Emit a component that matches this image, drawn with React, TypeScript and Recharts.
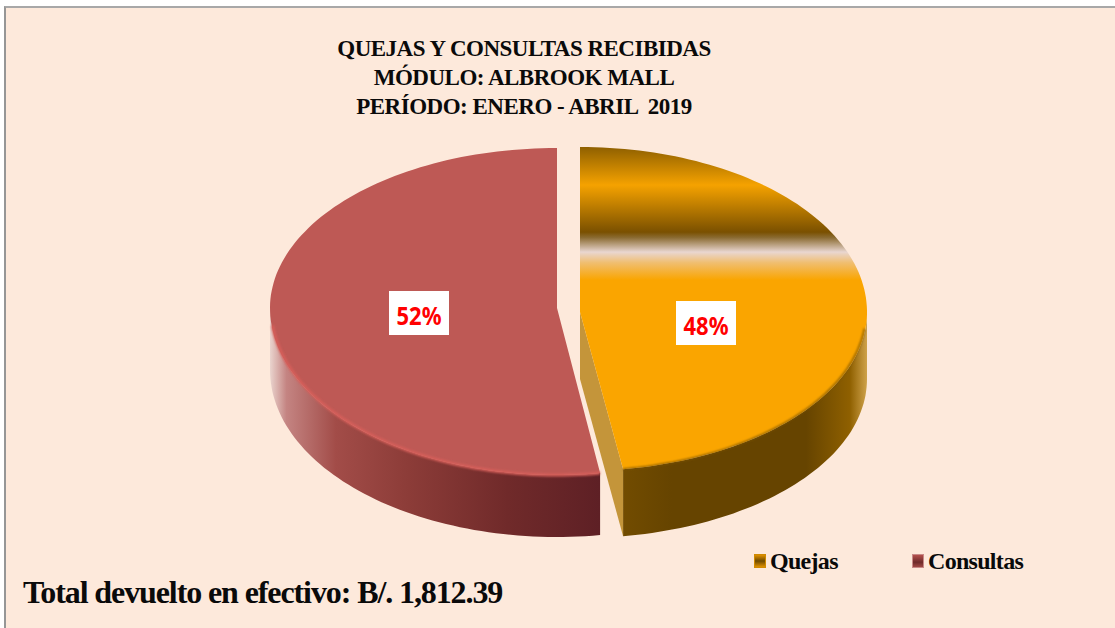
import { Legend, Pie, PieChart } from "recharts";

const categories = ["Quejas", "Consultas"];
const seriesValues = [47.6, 52.4];
const titleLines = ["QUEJAS Y CONSULTAS RECIBIDAS", "MÓDULO: ALBROOK MALL", "PERÍODO: ENERO - ABRIL  2019"];
const footerText = "Total devuelto en efectivo: B/. 1,812.39";

const data = categories.map((name, i) => ({ name, value: seriesValues[i] }));

const SERIF = "'Liberation Serif', serif";

// how each slice sits in the fake 3d: explode offset and a squashed radius front/back
const sliceLook: Record<string, any> = {
  Quejas: { ox: 11.5, oy: 2, depth: 67, ryBack: 165, ryFront: 159, top: "url(#quejasTop)", side: "url(#quejasSide)", cut: "#C4953A", rim: "#7A5200", rimW: 1.5, lx: 126, ly: 11 },
  Consultas: { ox: -11.5, oy: -2, depth: 62, ryBack: 160, ryFront: 167, top: "#BE5955", side: "url(#consultasSide)", cut: "#BE5955", rim: "#D65F5A", rimW: 3, lx: -138, ly: 5 },
};

function point(cx: number, cy: number, rx: number, look: any, deg: number) {
  const t = (deg * Math.PI) / 180;
  const c = Math.cos(t);
  return [cx + rx * Math.sin(t), cy - (c > 0 ? look.ryBack : look.ryFront) * c];
}

function arcPoints(cx: number, cy: number, rx: number, look: any, from: number, to: number) {
  const out: number[][] = [];
  const n = Math.max(2, Math.ceil(Math.abs(to - from) / 1.5));
  for (let i = 0; i <= n; i++) out.push(point(cx, cy, rx, look, from + ((to - from) * i) / n));
  return out;
}

const toPath = (pts: number[][]) => pts.map((p, i) => `${i ? "L" : "M"}${p[0].toFixed(1)} ${p[1].toFixed(1)}`).join(" ");

function Slice3D(props: any) {
  const { cx, cy, outerRadius, startAngle, endAngle, name, payload } = props;
  const look = sliceLook[name ?? payload?.name];
  const x0 = cx + look.ox;
  const y0 = cy + look.oy;
  const a0 = 90 - startAngle;
  const a1 = 90 - endAngle;
  const top = arcPoints(x0, y0, outerRadius, look, a0, a1);
  // only the part of the rim facing the viewer gets a wall
  const wallFrom = Math.max(a0, 90);
  const wallTo = Math.min(a1, 270);
  const front = arcPoints(x0, y0, outerRadius, look, wallFrom, wallTo);
  const wall = [...front, ...[...front].reverse().map((p) => [p[0], p[1] + look.depth])];
  const rim = arcPoints(x0, y0, outerRadius - 1, look, Math.max(wallFrom, 96), Math.min(wallTo, 264));
  const tip = point(x0, y0, outerRadius, look, a0 < 90 ? a1 : a0);
  const cutFace = [[x0, y0], tip, [tip[0], tip[1] + look.depth], [x0, y0 + look.depth]];
  return (
    <g>
      {a0 < 90 && <path d={toPath(cutFace)} fill={look.cut} />}
      <path d={toPath(wall)} fill={look.side} />
      <path d={`${toPath([[x0, y0], ...top])} Z`} fill={look.top} />
      <path d={toPath(rim)} fill="none" stroke={look.rim} strokeWidth={look.rimW} filter="url(#soft)" />
    </g>
  );
}

function PctLabel(props: any) {
  const { cx, cy, percent, name } = props;
  const look = sliceLook[name];
  const x = cx + look.ox + look.lx;
  const y = cy + look.oy + look.ly;
  return (
    <g>
      <rect x={x - 30} y={y - 22} width={60} height={44} fill="#FFFFFF" />
      <text
        x={x - 22.5}
        y={y + 12}
        textLength={45}
        lengthAdjust="spacingAndGlyphs"
        fontFamily="'Noto Sans', sans-serif"
        fontWeight={700}
        fontSize={25}
        fill="#FF0000"
      >
        {`${Math.round(percent * 100)}%`}
      </text>
    </g>
  );
}

function LegendRow() {
  const items = [
    { name: categories[0], left: 0, icon: "linear-gradient(180deg,#E09000,#6E4A00 50%,#E09000)", edge: "#D08A00" },
    { name: categories[1], left: 158, icon: "linear-gradient(180deg,#B4504C,#6E2A2A 60%,#A04844)", edge: "#C98A88" },
  ];
  return (
    <div style={{ position: "relative", width: 280, height: 30 }}>
      {items.map((it) => (
        <div key={it.name} style={{ position: "absolute", left: it.left, top: 0, display: "flex", alignItems: "center", fontFamily: SERIF, fontWeight: 700, fontSize: 24, letterSpacing: -0.7, color: "#0A0A0A", lineHeight: "30px" }}>
          <span style={{ width: 10, height: 12, marginRight: 4, background: it.icon, border: `1px solid ${it.edge}` }} />
          {it.name}
        </div>
      ))}
    </div>
  );
}

export default function App() {
  return (
    <div style={{ position: "absolute", left: 0, top: 0, width: 1115, height: 628, background: "#FFFFFF", overflow: "hidden" }}>
      <div style={{ position: "absolute", left: 4, top: 6, width: 1111, height: 622, background: "#FDE9DB", borderLeft: "2px solid #969696", borderTop: "2px solid #A8A8A8", boxSizing: "border-box" }} />
      <PieChart width={1115} height={628} margin={{ top: 0, right: 0, bottom: 0, left: 0 }} style={{ position: "absolute", left: 0, top: 0 }}>
        <defs>
          <linearGradient id="quejasTop" gradientUnits="userSpaceOnUse" x1="0" y1="147" x2="0" y2="280">
            <stop offset="0" stopColor="#8F6000" />
            <stop offset="0.286" stopColor="#F5A200" />
            <stop offset="0.64" stopColor="#7A5000" />
            <stop offset="0.68" stopColor="#8A6A30" />
            <stop offset="0.79" stopColor="#E9D6D0" />
            <stop offset="0.87" stopColor="#F0BE70" />
            <stop offset="1" stopColor="#FAA500" />
          </linearGradient>
          <linearGradient id="quejasSide" gradientUnits="userSpaceOnUse" x1="623" y1="0" x2="867" y2="0">
            <stop offset="0" stopColor="#724C00" />
            <stop offset="0.2" stopColor="#664400" />
            <stop offset="0.75" stopColor="#664400" />
            <stop offset="0.93" stopColor="#8F6000" />
            <stop offset="1" stopColor="#CFA24A" />
          </linearGradient>
          <linearGradient id="consultasSide" gradientUnits="userSpaceOnUse" x1="270" y1="0" x2="600" y2="0">
            <stop offset="0" stopColor="#EAD4CE" />
            <stop offset="0.05" stopColor="#C48482" />
            <stop offset="0.2" stopColor="#A24C48" />
            <stop offset="0.42" stopColor="#8C3C38" />
            <stop offset="0.72" stopColor="#702A2A" />
            <stop offset="1" stopColor="#5E2025" />
          </linearGradient>
          <filter id="soft" x="-5%" y="-5%" width="110%" height="110%">
            <feGaussianBlur stdDeviation="0.8" />
          </filter>
        </defs>
        <text textAnchor="middle" fontFamily={SERIF} fontWeight={700} fontSize={23} letterSpacing={-0.5} fill="#0A0A0A">
          {titleLines.map((line, i) => (
            <tspan key={line} x={524} y={56 + i * 29} xmlSpace="preserve" style={{ whiteSpace: "pre" }}>
              {line}
            </tspan>
          ))}
        </text>
        <text x={23} y={603} fontFamily={SERIF} fontWeight={700} fontSize={32} letterSpacing={-1.1} fill="#0A0A0A">
          {footerText}
        </text>
        <Pie
          data={data}
          dataKey="value"
          nameKey="name"
          cx={568.5}
          cy={310}
          outerRadius={287}
          startAngle={90}
          endAngle={-270}
          stroke="none"
          shape={Slice3D}
          label={PctLabel}
          labelLine={false}
          isAnimationActive={false}
        />
        <Legend content={<LegendRow />} wrapperStyle={{ position: "absolute", left: 754, top: 546, width: 280, height: 30, bottom: "auto", right: "auto" }} />
      </PieChart>
    </div>
  );
}
